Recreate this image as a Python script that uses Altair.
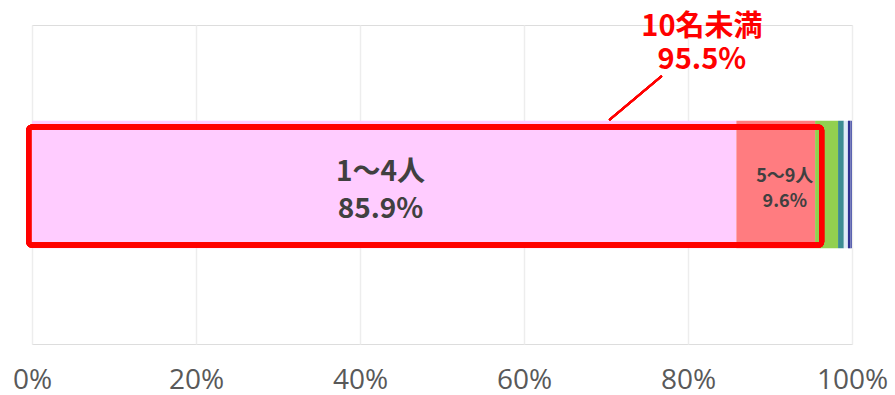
import altair as alt
import pandas as pd

# ---- data ----
categories = ["1〜4人", "5〜9人", "10〜19人", "20〜29人", "30〜49人", "50〜99人", "100人以上"]
values = [85.9, 9.6, 2.8, 0.7, 0.5, 0.3, 0.2]
colors = ["#FFCCFF", "#FF7C80", "#92D050", "#3C8C93", "#DDEBF7", "#2E3192", "#5B63B0"]

tick_values = [0, 20, 40, 60, 80, 100]

# in-bar labels
big_lines = ["1〜4人", "85.9%"]
big_x = [42.5, 42.5]
big_y = [0.535, 0.42]

small_lines = ["5〜9人", "9.6%"]
small_x = [91.8, 91.8]
small_y = [0.525, 0.445]

# callout
call_lines = ["10名未満", "95.5%"]
call_x = [81.7, 81.7]
call_y = [0.995, 0.89]
leader_x = [76.8, 70.4]
leader_y = [0.84, 0.702]
box_x = [-0.4, 96.3]
box_y = [0.31, 0.68]

df = pd.DataFrame({"cat": categories, "value": values, "idx": list(range(len(values)))})
big_df = pd.DataFrame({"t": big_lines, "x": big_x, "y": big_y})
small_df = pd.DataFrame({"t": small_lines, "x": small_x, "y": small_y})
call_df = pd.DataFrame({"t": call_lines, "x": call_x, "y": call_y})

xscale = alt.Scale(domain=[0, 100], nice=False)
yscale = alt.Scale(domain=[0, 1], nice=False)

xaxis = alt.Axis(values=tick_values, labelExpr="datum.value + '%'",
                 grid=True, gridColor="#EDEDED", gridWidth=1.5,
                 domain=False, ticks=False, tickSize=0,
                 labelFlush=False, labelOverlap=False, labelBound=False,
                 labelFont="Open Sans", labelFontSize=28,
                 labelColor="#595959", labelPadding=36,
                 labelBaseline="middle", title=None)

bars = alt.Chart(df).transform_stack(
    stack="value", as_=["x0", "x1"], groupby=[], sort=[alt.SortField("idx")]
).mark_bar().encode(
    x=alt.X("x0:Q", scale=xscale, title=None, axis=xaxis),
    x2="x1:Q",
    y=alt.datum(0.3, scale=yscale, axis=None),
    y2=alt.datum(0.7),
    color=alt.Color("cat:N", scale=alt.Scale(domain=categories, range=colors), legend=None),
)

def txt(data, size, color):
    return alt.Chart(data).mark_text(
        font="Noto Sans CJK JP", fontWeight="bold", fontSize=size, color=color,
        baseline="middle", align="center"
    ).encode(
        x=alt.X("x:Q", scale=xscale, axis=xaxis),
        y=alt.Y("y:Q", scale=yscale, axis=None),
        text="t:N",
    )

big_text = txt(big_df, 28, "#404040")
small_text = txt(small_df, 18, "#404040")
call_text = txt(call_df, 29, "#FF0000")

leader = alt.Chart(df).mark_rule(color="#FF0000", strokeWidth=2).encode(
    x=alt.datum(leader_x[0], scale=xscale, axis=xaxis), x2=alt.datum(leader_x[1]),
    y=alt.datum(leader_y[0], scale=yscale, axis=None), y2=alt.datum(leader_y[1]),
)

box = alt.Chart(df).mark_rect(
    fillOpacity=0, stroke="#FF0000", strokeWidth=5, cornerRadius=3
).encode(
    x=alt.datum(box_x[0], scale=xscale, axis=xaxis), x2=alt.datum(box_x[1]),
    y=alt.datum(box_y[0], scale=yscale, axis=None), y2=alt.datum(box_y[1]),
)

chart = alt.layer(bars, big_text, small_text, box, leader, call_text).properties(
    width=820, height=319,
    autosize=alt.AutoSizeParams(type="none"),
    padding={"left": 32, "top": 25, "right": 43, "bottom": 51},
).configure_view(strokeWidth=0).configure(background="white")

chart.save("out.html", embed_options={"renderer": "svg", "actions": False})
